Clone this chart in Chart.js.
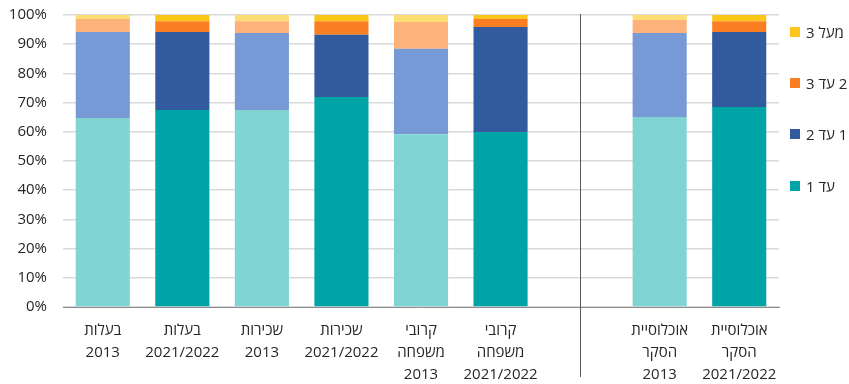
<!DOCTYPE html>
<html>
<head>
<meta charset="utf-8">
<script src="https://cdn.jsdelivr.net/npm/chart.js@4.4.1/dist/chart.umd.min.js"></script>
<style>
  html, body { margin: 0; padding: 0; background: #fff; overflow: hidden; }
  .wrap { position: relative; width: 849px; height: 384px; }
  #legend { position: absolute; left: 790px; top: 0; font-family: "Open Sans", sans-serif; font-size: 15px; color: #262626; }
  .item { position: absolute; left: 0; display: flex; align-items: center; white-space: nowrap; direction: ltr; }
  .sw { width: 10px; height: 10px; margin-right: 6px; }
</style>
</head>
<body>
<div class="wrap">
  <canvas id="chart" width="849" height="384"></canvas>
  <div id="legend"></div>
</div>
<script>
// categories (empty slot before the survey population bars)
const categories = [
    ['בעלות', '2013'],
    ['בעלות', '2021/2022'],
    ['שכירות', '2013'],
    ['שכירות', '2021/2022'],
    ['קרובי', 'משפחה', '2013'],
    ['קרובי', 'משפחה', '2021/2022'],
    '',
    ['אוכלוסיית', 'הסקר', '2013'],
    ['אוכלוסיית', 'הסקר', '2021/2022']
];

const seriesNames = ['עד 1', '1 עד 2', '2 עד 3', 'מעל 3'];

const upTo1   = [64.7, 67.5, 67.5, 71.9, 59.2, 59.9, null, 65.1, 68.5];
const from1to2 = [29.5, 26.7, 26.3, 21.3, 29.2, 36.0, null, 28.7, 25.7];
const from2to3 = [4.4, 3.7, 4.1, 4.7, 9.2, 2.7, null, 4.5, 3.7];
const over3   = [1.4, 2.1, 2.1, 2.1, 2.4, 1.4, null, 1.7, 2.1];

const yTicks = [0, 10, 20, 30, 40, 50, 60, 70, 80, 90, 100];

const darkColors  = ['#00a3a6', '#315a9f', '#fc7e23', '#fac619'];
const lightColors = ['#80d4d3', '#7799d5', '#fcb27a', '#fdde75'];
const isLight = [true, false, true, false, true, false, false, true, false];

const seriesData = [upTo1, from1to2, from2to3, over3];

const datasets = seriesData.map((d, i) => ({
    label: seriesNames[i],
    data: d,
    backgroundColor: isLight.map(l => l ? lightColors[i] : darkColors[i]),
    borderWidth: 0,
    barPercentage: 0.68,
    categoryPercentage: 1
}));

const separator = {
    id: 'separator',
    afterDatasetsDraw(chart) {
        const ctx = chart.ctx;
        const x = Math.round(chart.scales.x.getPixelForValue(6)) + 0.5;
        ctx.save();
        ctx.strokeStyle = '#595959';
        ctx.lineWidth = 1;
        ctx.beginPath();
        ctx.moveTo(x, chart.chartArea.top - 1);
        ctx.lineTo(x, 377);
        ctx.stroke();
        ctx.restore();
    }
};

new Chart(document.getElementById('chart'), {
    type: 'bar',
    data: { labels: categories, datasets: datasets },
    options: {
        responsive: false,
        animation: false,
        layout: { padding: { top: 15, right: 70, left: 0, bottom: 0 } },
        plugins: { legend: { display: false }, tooltip: { enabled: false } },
        scales: {
            x: {
                stacked: true,
                grid: { display: false, drawTicks: false },
                border: { color: '#8c8c8c', width: 1 },
                ticks: {
                    color: '#262626',
                    font: { family: 'Open Sans', size: 15, lineHeight: 1.47 },
                    padding: 13,
                    maxRotation: 0,
                    autoSkip: false
                },
                afterFit(scale) { scale.height = 77; }
            },
            y: {
                stacked: true,
                min: 0,
                max: 100,
                afterBuildTicks(scale) { scale.ticks = yTicks.map(v => ({ value: v })); },
                grid: { color: '#d9d9d9', lineWidth: 1.5, drawTicks: false },
                border: { display: false },
                ticks: {
                    color: '#262626',
                    font: { family: 'Open Sans', size: 15 },
                    padding: 16,
                    callback: v => v + '%'
                },
                afterFit(scale) {
                    scale.width = 63;
                    scale.paddingTop = 9;
                    scale.paddingBottom = 9;
                }
            }
        }
    },
    plugins: [separator]
});

// legend, top to bottom in reverse series order
const legend = document.getElementById('legend');
const legendY = [32, 83, 134, 186];
seriesNames.slice().reverse().forEach((name, k) => {
    const i = seriesNames.length - 1 - k;
    const item = document.createElement('div');
    item.className = 'item';
    item.style.top = (legendY[k] - 11) + 'px';
    item.style.height = '22px';
    const sw = document.createElement('span');
    sw.className = 'sw';
    sw.style.background = darkColors[i];
    const txt = document.createElement('span');
    txt.dir = 'rtl';
    txt.textContent = name;
    item.appendChild(sw);
    item.appendChild(txt);
    legend.appendChild(item);
});
</script>
</body>
</html>
